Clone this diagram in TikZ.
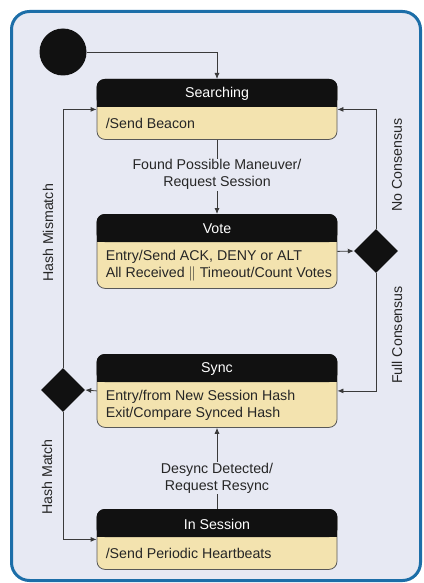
\documentclass[tikz,border=0pt]{standalone}
\usepackage{fontspec}
\setmainfont{Liberation Sans}
\usetikzlibrary{shapes.geometric,arrows.meta,calc}

\definecolor{framebg}{HTML}{E7E9F3}
\definecolor{frameline}{HTML}{1C6EA8}
\definecolor{bodyfill}{HTML}{F3E3AF}
\definecolor{hdrfill}{HTML}{111111}
\definecolor{wire}{HTML}{3A3A3A}

\tikzset{
  txt/.style={font=\fontsize{14.2pt}{17pt}\selectfont, text=black!85},
  statebox/.style={draw=wire!85, fill=bodyfill, rounded corners=8pt,
    minimum width=240pt, inner sep=0pt, line width=0.8pt},
  titletext/.style={txt, text=white, inner sep=0pt},
  bodytext/.style={txt, align=left, inner sep=0pt, anchor=west},
  flow/.style={draw=wire, line width=0.8pt, -{Latex[length=6pt,width=5pt]}},
  lbl/.style={txt, fill=framebg, align=center, inner sep=1pt},
  sidelbl/.style={txt, rotate=90, inner sep=0pt},
  choice/.style={diamond, fill=hdrfill, inner sep=0pt, minimum size=44pt},
  startdot/.style={circle, fill=hdrfill, inner sep=0pt, minimum size=47pt},
}

% state with a black title bar and a pale body
\newcommand\umlstate[6]{%
  \node[statebox, minimum height=#4pt, anchor=north] (#1) at (#2,#3) {};
  \fill[hdrfill, rounded corners=8pt] (#1.north west) rectangle ($(#1.north east)+(0,28)$);
  \fill[hdrfill] ($(#1.north west)+(0,20)$) rectangle ($(#1.north east)+(0,28)$);
  \node[titletext] (#1-title) at ($(#1.north)+(0,15)$) {#5};
  \node[bodytext] (#1-body) at ($(#1.west)+(9,14)$) {#6};
}

\begin{document}
\begin{tikzpicture}[x=1pt,y=-1pt]
  \useasboundingbox (0,0) rectangle (423,583);
  \fill[white] (0,0) rectangle (423,583);
  \draw[frameline, line width=3pt, fill=framebg, rounded corners=18pt]
    (11.5,11.5) rectangle (420.5,580.5);

  \node[startdot] (init) at (63,52) {};

  \umlstate{srch}{217}{79}{60}{Searching}{/Send Beacon}
  \umlstate{vote}{217}{214}{74}{Vote}{Entry/Send ACK, DENY or ALT\\All Received $\|$ Timeout/Count Votes}
  \umlstate{sync}{217}{354}{73}{Sync}{Entry/from New Session Hash\\Exit/Compare Synced Hash}
  \umlstate{sess}{217}{509}{60}{In Session}{/Send Periodic Heartbeats}

  \node[choice] (dR) at (376,251) {};
  \node[choice] (dL) at (63,390) {};

  % transitions
  \draw[flow] (init.east) -| (srch.north);
  \draw[flow] (srch.south) -- node[lbl, pos=0.47] (lblFound) {Found Possible Maneuver/\\Request Session} (vote.north);
  \draw[flow] (vote.east) -- (dR.west);
  \draw[flow] (dR.north) |- (srch.east);
  \draw[flow] (dR.south) |- (sync.east);
  \draw[flow] (sync.west) -- (dL.east);
  \draw[flow] (dL.north) |- (srch.west);
  \draw[flow] (dL.south) |- (sess.west);
  \draw[flow] (sess.north) -- node[lbl, pos=0.38] (lblDesync) {Desync Detected/\\Request Resync} (sync.south);

  % guard labels beside the vertical runs
  \node[sidelbl] (lblNo) at (397,165) {No Consensus};
  \node[sidelbl] (lblFull) at (397,335) {Full Consensus};
  \node[sidelbl] (lblMis) at (48,233) {Hash Mismatch};
  \node[sidelbl] (lblMatch) at (47,477) {Hash Match};
\end{tikzpicture}
\end{document}
